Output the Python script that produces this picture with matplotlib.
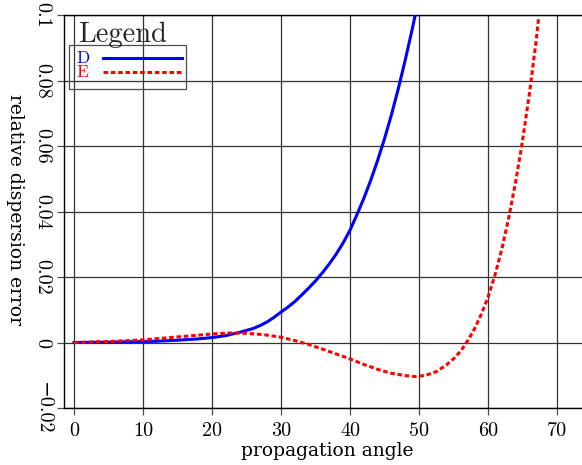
import numpy as np
import matplotlib
matplotlib.use("Agg")
import matplotlib.pyplot as plt
from matplotlib.lines import Line2D
from matplotlib.patches import Rectangle

plt.rcParams['font.family'] = ['cmr10', 'DejaVu Serif']
plt.rcParams['axes.unicode_minus'] = True

# relative dispersion error vs propagation angle
angle_d = [0, 5, 10, 12, 15, 18, 20, 22, 24, 26, 27, 28, 29, 30, 31, 32,
           33, 34, 35, 36, 37, 38, 39, 40, 41, 42, 43, 44, 45, 46, 47, 48,
           49, 49.45]
err_d = [0.0, 0.0001, 0.0003, 0.0004, 0.0007, 0.0011, 0.0015, 0.0021,
         0.0031, 0.0043, 0.0052, 0.0063, 0.0077, 0.0093, 0.0108, 0.0125,
         0.0145, 0.0166, 0.0188, 0.0213, 0.0240, 0.0270, 0.0304, 0.0343,
         0.0390, 0.0440, 0.0495, 0.0556, 0.0622, 0.0695, 0.0775, 0.0862,
         0.0955, 0.1]

angle_e = [0, 5, 10, 15, 20, 22.5, 25, 27.5, 30, 32, 34, 36, 38, 40, 42,
           44, 46, 48, 49.5, 51, 52.5, 54, 55, 56, 57, 58, 59, 60, 61, 62,
           63, 64, 65, 66, 67, 67.35]
err_e = [0.0, 0.0003, 0.0008, 0.0017, 0.0026, 0.0029, 0.0028, 0.0024,
         0.0016, 0.0006, -0.0006, -0.0020, -0.0035, -0.0050, -0.0067,
         -0.0082, -0.0094, -0.0101, -0.0104, -0.0100, -0.0089, -0.0068,
         -0.0050, -0.0027, 0.0003, 0.0040, 0.0085, 0.0138, 0.0205, 0.0285,
         0.0380, 0.0490, 0.0615, 0.0760, 0.0925, 0.0995]

xticks = [0, 10, 20, 30, 40, 50, 60, 70]
yticks = [-0.02, 0, 0.02, 0.04, 0.06, 0.08, 0.1]
ylabels = ['\u22120.02', '0', '0.02', '0.04', '0.06', '0.08', '0.1']

W, H = 582, 465
fig = plt.figure(figsize=(W / 100, H / 100), dpi=100)

def fx(px):
    return px / W

def fy(py):
    return 1 - py / H

ax = fig.add_axes([fx(64), fy(408), fx(582) - fx(64), fy(15) - fy(408)])
ax.set_xlim((64 - 74) / 6.9, (582 - 74) / 6.9)
ax.set_ylim(-0.02, 0.1)

ax.plot(angle_d, err_d, color='blue', lw=2.2, zorder=3)
ax.plot(angle_e, err_e, color='red', lw=2.2, dashes=(1.5, 0.9),
        dash_capstyle='butt', zorder=3)

ax.set_xticks(xticks)
ax.set_yticks(yticks)
ax.set_yticklabels(ylabels, rotation=-90, va='center')
ax.grid(True, color='0.2', lw=0.9)
ax.tick_params(axis='both', labelsize=14.5, direction='out', length=5,
               width=0.9, color='0.3')
ax.tick_params(axis='x', pad=5)
ax.tick_params(axis='y', pad=4)
for s in ['left', 'bottom', 'top']:
    ax.spines[s].set_linewidth(1.0)
ax.spines['right'].set_visible(False)

# the words in the picture are widely spaced, DejaVu Serif fits them better
fig.text(fx(327), fy(451), 'propagation angle', fontsize=13.5,
         family='DejaVu Serif', ha='center', va='center')
fig.text(fx(15), fy(209), 'relative dispersion error', fontsize=13.5,
         family='DejaVu Serif', rotation=-90, ha='center', va='center')

# legend box, drawn by hand
fig.text(fx(78), fy(42), 'Legend', fontsize=20.5, ha='left', va='baseline',
         color='0.15')
fig.add_artist(Rectangle((fx(69), fy(89)), fx(186) - fx(69), fy(45) - fy(89),
                         transform=fig.transFigure, fill=False,
                         edgecolor='0.3', lw=0.9))
fig.text(fx(76), fy(58), 'D', color='blue', fontsize=12.5, ha='left',
         va='center')
fig.text(fx(76), fy(72), 'E', color='red', fontsize=12.5, ha='left',
         va='center')
fig.add_artist(Line2D([fx(103), fx(182)], [fy(58), fy(58)], color='blue',
                      lw=2.2, transform=fig.transFigure))
fig.add_artist(Line2D([fx(103), fx(182)], [fy(72), fy(72)], color='red',
                      lw=2.2, dashes=(1.5, 0.9), dash_capstyle='butt',
                      transform=fig.transFigure))

fig.savefig('out.png', dpi=100)
